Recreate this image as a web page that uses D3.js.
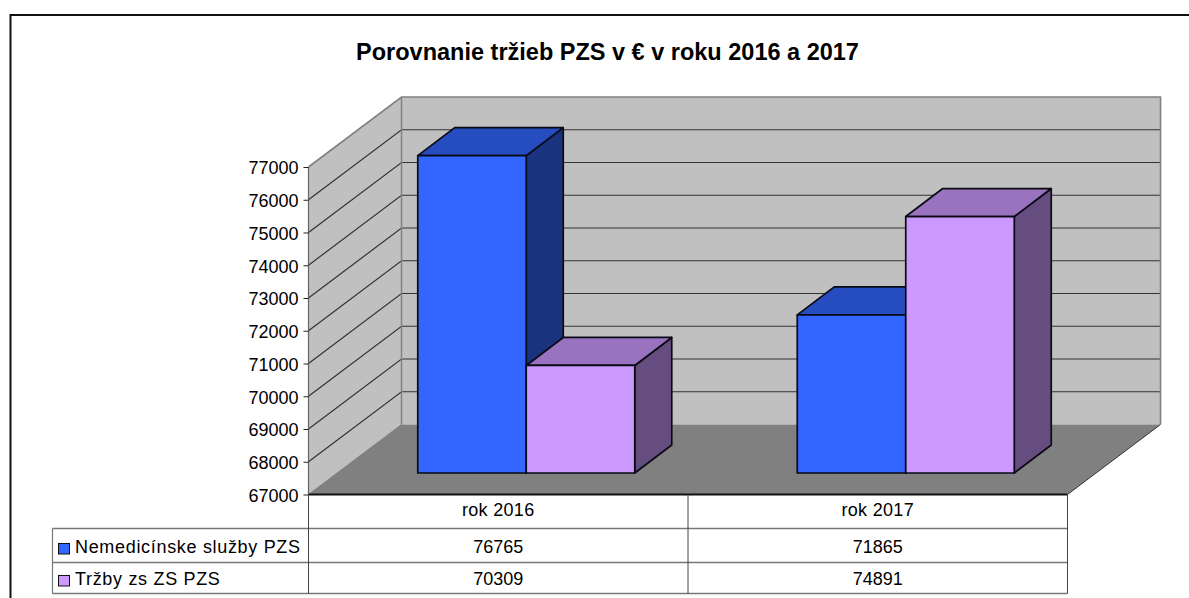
<!DOCTYPE html>
<html><head><meta charset="utf-8">
<script src="https://cdn.jsdelivr.net/npm/d3@7"></script>
<style>html,body{margin:0;padding:0;background:#fff;overflow:hidden}svg{display:block}text{font-family:"Liberation Sans",Arial,sans-serif;fill:#000}</style>
</head><body><script>
const titleText = "Porovnanie tržieb PZS v € v roku 2016 a 2017";
const categories = ["rok 2016", "rok 2017"];
const seriesNames = ["Nemedicínske služby PZS", "Tržby zs ZS PZS"];
const seriesA = [76765, 71865];
const seriesB = [70309, 74891];
const seriesColors = ["#3366ff", "#cc99ff"];
const topColors = ["#264dbf", "#9973bf"];
const sideColors = ["#19337f", "#664d7f"];
const valueTicks = [67000,68000,69000,70000,71000,72000,73000,74000,75000,76000,77000];
const seriesValues = [seriesA, seriesB];

const W = 1189, H = 598;
const svg = d3.select("body").append("svg").attr("width", W).attr("height", H);

const x0 = 308.5, x1 = 1067.5, yB = 494.5, yT = 167;
const depthX = 93, depthY = 70;
const barDX = 37, barDY = 28, floorShift = 28, barBase = 473, barW = 108.5;
const y = d3.scaleLinear().domain([67000, 77000]).range([yB, yT]);
const yBar = d3.scaleLinear().domain([67000, 77000]).range([barBase, barBase - 325]);
const xBand = d3.scaleBand().domain(categories).range([x0, x1]);

// frame
svg.append("path").attr("d", "M10.5,598V15H1189").attr("fill", "none").attr("stroke", "#111").attr("stroke-width", 2);

// title
svg.append("text").attr("x", 607.5).attr("y", 60).attr("text-anchor", "middle")
  .attr("font-size", 23.5).attr("font-weight", "bold").text(titleText);

// walls
const poly = pts => pts.map(p => p.join(",")).join(" ");
svg.append("rect").attr("x", x0 + depthX).attr("y", yT - depthY).attr("width", x1 - x0 + 0).attr("height", yB - yT)
  .attr("fill", "#c0c0c0");
svg.append("polygon").attr("points", poly([[x0, yB], [x0, yT], [x0 + depthX, yT - depthY], [x0 + depthX, yB - depthY]]))
  .attr("fill", "#c0c0c0");
svg.append("polygon").attr("points", poly([[x0, yB], [x1, yB], [x1 + depthX, yB - depthY], [x0 + depthX, yB - depthY]]))
  .attr("fill", "#808080");
svg.append("line").attr("x1", x1).attr("y1", yB).attr("x2", x1 + depthX).attr("y2", yB - depthY).attr("stroke", "#333").attr("stroke-width", 1);

// gridlines
const gridTicks = valueTicks.slice(1, -1);
svg.append("g").selectAll("path").data(gridTicks.concat(valueTicks.slice(-1)).slice(0, -1)).join("path")
  .attr("d", d => `M${x0},${y(d)}L${x0 + depthX},${y(d) - depthY}H${x1 + depthX}`)
  .attr("fill", "none").attr("stroke", "#333").attr("stroke-width", 1.2);
// wall edges
svg.append("path").attr("d", `M${x0},${yT}L${x0 + depthX},${yT - depthY}H${x1 + depthX}V${yB - depthY}`)
  .attr("fill", "none").attr("stroke", "#808080").attr("stroke-width", 1.6);
svg.append("line").attr("x1", x0 + depthX).attr("x2", x0 + depthX).attr("y1", yT - depthY).attr("y2", yB - depthY)
  .attr("stroke", "#808080").attr("stroke-width", 1.4);
svg.append("line").attr("x1", x0).attr("x2", x0 + depthX).attr("y1", yB).attr("y2", yB - depthY)
  .attr("stroke", "#808080").attr("stroke-width", 1);

// axis
const axis = d3.axisLeft(y).tickValues(valueTicks).tickFormat(d3.format("d")).tickSize(5).tickPadding(5);
const ag = svg.append("g").attr("transform", `translate(${x0},0)`).call(axis);
ag.select(".domain").attr("stroke", "#666").attr("stroke-width", 1.2).attr("d", `M0,${yT}V${yB}`);
ag.selectAll(".tick line").attr("stroke", "#222");
ag.selectAll("text").attr("font-size", 18).attr("dy", "0.38em").attr("font-family", '"Liberation Sans",Arial,sans-serif').attr("fill", "#000");

// bars
categories.forEach((cat, ci) => {
  const cx = xBand(cat) + xBand.bandwidth() / 2 + floorShift;
  seriesValues.forEach((vals, si) => {
    const l = cx + (si - 1) * barW, r = l + barW, t = yBar(vals[ci]);
    const g = svg.append("g").attr("stroke", "#0a0a14").attr("stroke-width", 1.7).attr("stroke-linejoin", "round");
    g.append("polygon").attr("points", poly([[r, t], [r + barDX, t - barDY], [r + barDX, barBase - barDY], [r, barBase]])).attr("fill", sideColors[si]);
    g.append("polygon").attr("points", poly([[l, t], [l + barDX, t - barDY], [r + barDX, t - barDY], [r, t]])).attr("fill", topColors[si]);
    g.append("rect").attr("x", l).attr("y", t).attr("width", barW).attr("height", barBase - t).attr("fill", seriesColors[si]);
  });
});

// base line of the chart
svg.append("line").attr("x1", x0).attr("x2", x1).attr("y1", yB).attr("y2", yB).attr("stroke", "#111").attr("stroke-width", 2);

// data table
const rowY = [yB, 528.5, 562.5, 593.5];
const legendX = 52.5;
const t = svg.append("g");
const tableStroke = "#777";
[1, 2, 3].forEach(i => t.append("line").attr("x1", legendX).attr("x2", x1).attr("y1", rowY[i]).attr("y2", rowY[i])
  .attr("stroke", tableStroke).attr("stroke-width", 1.5));
t.append("line").attr("x1", legendX).attr("x2", legendX).attr("y1", rowY[1]).attr("y2", rowY[3]).attr("stroke", tableStroke).attr("stroke-width", 1.2);
[x0, x0 + xBand.bandwidth(), x1].forEach(x => t.append("line").attr("x1", x).attr("x2", x).attr("y1", yB).attr("y2", rowY[3])
  .attr("stroke", "#444").attr("stroke-width", 1));

categories.forEach((cat, ci) => {
  const cx = xBand(cat) + xBand.bandwidth() / 2;
  t.append("text").attr("x", cx).attr("y", 516).attr("text-anchor", "middle").attr("font-size", 18).attr("letter-spacing", 0.3).text(cat);
  seriesValues.forEach((vals, si) => {
    t.append("text").attr("x", cx).attr("y", rowY[si + 1] + 24 - si * 2).attr("text-anchor", "middle").attr("font-size", 18).text(vals[ci]);
  });
});
seriesNames.forEach((name, si) => {
  t.append("rect").attr("x", 58.5).attr("y", rowY[si + 1] + 15 - si * 2).attr("width", 11).attr("height", 10.5)
    .attr("fill", seriesColors[si]).attr("stroke", "#111").attr("stroke-width", 1);
  t.append("text").attr("x", 75).attr("y", rowY[si + 1] + 24 - si * 2).attr("font-size", 18).attr("letter-spacing", 0.68).text(name);
});
</script></body></html>
